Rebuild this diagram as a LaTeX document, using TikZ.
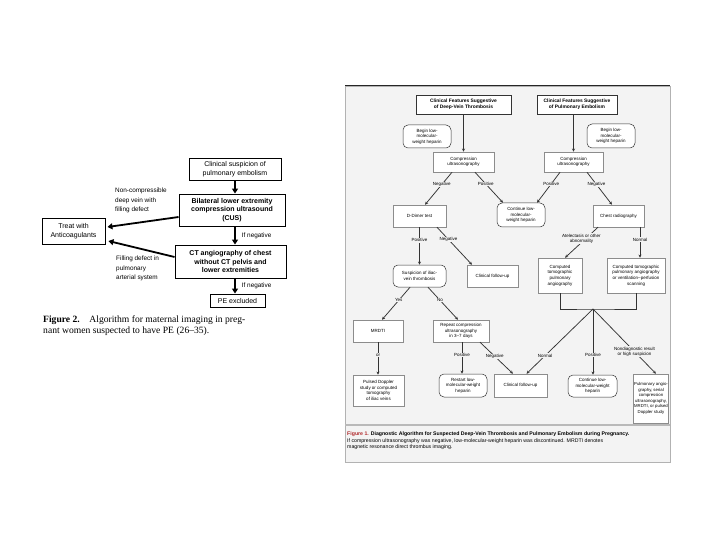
\documentclass[tikz,border=0pt]{standalone}
\usepackage{fontspec}
\setmainfont{Liberation Serif}
\setsansfont{Liberation Sans}
\usetikzlibrary{arrows.meta,calc}
\definecolor{rbg}{HTML}{F3F3F3}
\definecolor{capred}{HTML}{B0282A}
\definecolor{rline}{HTML}{333333}
\begin{document}
\begin{tikzpicture}[x=1pt,y=-1pt,
  lbox/.style={draw,line width=0.9pt,fill=white,font=\sffamily\fontsize{7}{8.6}\selectfont,align=center,inner sep=1pt},
  lbold/.style={lbox,font=\sffamily\bfseries\fontsize{7}{8.6}\selectfont},
  larr/.style={line width=1.8pt,-{Triangle[length=5pt,width=6pt]}},
  llab/.style={font=\sffamily\fontsize{6.4}{9.3}\selectfont,align=left,inner sep=0pt},
  rbox/.style={draw=gray!90,line width=0.5pt,fill=white,font=\sffamily\fontsize{4.5}{5.6}\selectfont,align=center,inner sep=0.5pt},
  rround/.style={rbox,draw=black!80,rounded corners=5pt},
  rtitle/.style={rbox,draw=black!80,line width=0.7pt,font=\sffamily\bfseries\fontsize{4.9}{6}\selectfont},
  rarr/.style={line width=0.75pt,draw=rline,-{Stealth[length=3.2pt,width=3pt]}},
  rln/.style={line width=0.75pt,draw=rline},
  rlab/.style={fill=rbg,font=\sffamily\fontsize{4.5}{5.6}\selectfont,inner sep=0.6pt,align=center},
  rcap/.style={anchor=west,inner sep=0pt,font=\sffamily\fontsize{5.2}{6}\selectfont}
]
\useasboundingbox (0,0) rectangle (720,540);
\fill[white] (0,0) rectangle (720,540);

% ---------------- Left figure ----------------
\node[lbox,minimum width=92pt,minimum height=22pt] (clin) at (235,169) {Clinical suspicion of\\pulmonary embolism};
\node[lbold,minimum width=106pt,minimum height=32pt] (cus) at (232,210) {Bilateral lower extremity\\compression ultrasound\\(CUS)};
\node[lbold,minimum width=111pt,minimum height=33pt] (cta) at (230.5,261.5) {CT angiography of chest\\without CT pelvis and\\lower extremities};
\node[lbox,minimum width=55pt,minimum height=13pt] (pex) at (237.5,300.5) {PE excluded};
\node[lbox,minimum width=63pt,minimum height=26pt] (treat) at (73.5,231) {Treat with\\Anticoagulants};

\draw[larr] (clin.south) -- (clin.south |- cus.north);
\draw[larr] (cus.south -| clin.south) -- (cta.north -| clin.south)
  node[midway,right=6pt,llab] {If negative};
\draw[larr] (cta.south -| clin.south) -- (pex.north -| clin.south)
  node[midway,right=6pt,llab] {If negative};
\draw[larr] ($(cus.west)+(0,7)$) -- ($(treat.east)+(2,-4)$);
\draw[larr] ($(cta.west)+(0,-4.5)$) -- ($(treat.east)+(3,10)$);

\node[llab,anchor=north west] (lab1) at (115,188) {Non-compressible\\deep vein with\\filling defect};
\node[llab,anchor=north west] (lab2) at (116,256) {Filling defect in\\pulmonary\\arterial system};

\node[anchor=west,inner sep=0pt,font=\fontsize{9.6}{11}\selectfont] (cap2a) at (43,320) {\textbf{Figure 2.}\quad Algorithm for maternal imaging in preg-};
\node[anchor=west,inner sep=0pt,font=\fontsize{9.6}{11}\selectfont] (cap2b) at (43,331) {nant women suspected to have PE (26--35).};

% ---------------- Right figure ----------------
\fill[rbg] (345,86) rectangle (670,462);
\draw[gray!60,line width=0.8pt] (345,86) rectangle (670,462);
\draw[gray!30!black,line width=1pt] (345,86) -- (670,86);
\draw[gray!55,line width=1.6pt] (345,425) -- (670,425);

\node[rtitle,minimum width=95pt,minimum height=19pt] (dvt) at (463.5,104.5) {Clinical Features Suggestive\\of Deep-Vein Thrombosis};
\node[rtitle,minimum width=80pt,minimum height=19pt] (pe) at (577,104.5) {Clinical Features Suggestive\\of Pulmonary Embolism};
\node[rround,minimum width=48pt,minimum height=23pt] (lmwh1) at (427,136.5) {Begin low-\\molecular-\\weight heparin};
\node[rround,minimum width=48pt,minimum height=24pt] (lmwh2) at (611,136) {Begin low-\\molecular-\\weight heparin};
\node[rbox,minimum width=61pt,minimum height=20pt] (cus1) at (463.5,162) {Compression\\ultrasonography};
\node[rbox,minimum width=59pt,minimum height=20pt] (cus2) at (573.5,162) {Compression\\ultrasonography};
\node[rbox,minimum width=53pt,minimum height=22pt] (ddim) at (419.5,216) {D-Dimer test};
\node[rround,minimum width=48pt,minimum height=24pt] (cont1) at (521,215) {Continue low-\\molecular-\\weight heparin};
\node[rbox,minimum width=51pt,minimum height=22pt] (chest) at (618.5,216) {Chest radiography};
\node[rround,minimum width=53pt,minimum height=22pt] (iliac) at (419.5,276) {Suspicion of iliac-\\vein thrombosis};
\node[rbox,minimum width=51pt,minimum height=22pt] (cfu1) at (492.5,276) {Clinical follow-up};
\node[rbox,minimum width=44pt,minimum height=35pt] (ctpa) at (560,275.5) {Computed\\tomographic\\pulmonary\\angiography};
\node[rbox,minimum width=58pt,minimum height=35pt] (ctvq) at (636,275.5) {Computed tomographic\\pulmonary angiography\\or ventilation--perfusion\\scanning};
\node[rbox,minimum width=50pt,minimum height=22pt] (mrdti) at (378,331) {MRDTI};
\node[rbox,minimum width=56pt,minimum height=22pt] (repeat) at (461,331) {Repeat compression\\ultrasonography\\in 3--7 days};
\node[rbox,minimum width=51pt,minimum height=31pt] (pulsed) at (378.5,390.5) {Pulsed Doppler\\study or computed\\tomography\\of iliac veins};
\node[rround,minimum width=48pt,minimum height=23pt] (restart) at (463,385.5) {Restart low-\\molecular-weight\\heparin};
\node[rbox,minimum width=53pt,minimum height=23pt] (cfu2) at (520.5,385.5) {Clinical follow-up};
\node[rround,minimum width=49pt,minimum height=22pt] (cont2) at (592.5,386) {Continue low-\\molecular-weight\\heparin};
\node[rbox,minimum width=35pt,minimum height=49pt,font=\sffamily\fontsize{4.3}{5.5}\selectfont] (pulm) at (651,398.5) {Pulmonary angio-\\graphy, serial\\compression\\ultrasonography,\\MRDTI, or pulsed\\Doppler study};

\coordinate (jn) at (593,309);
\draw[rarr] (dvt.south) -- (cus1.north);
\draw[rarr] (cus2.north |- pe.south) -- (cus2.north);
\draw[rarr] ($(cus1.south)+(-11.5,0)$) -- ($(ddim.north)+(5.5,0)$) node[rlab,pos=.38] {Negative};
\draw[rarr] ($(cus1.south)+(11.5,0)$) -- ($(cont1.north)+(-18,0)$) node[rlab,pos=.38] {Positive};
\draw[rarr] ($(cus2.south)+(-13.5,0)$) -- ($(cont1.north)+(16,0)$) node[rlab,pos=.38] {Positive};
\draw[rarr] ($(cus2.south)+(13.5,0)$) -- ($(chest.north)+(-6.5,0)$) node[rlab,pos=.38] {Negative};
\draw[rarr] (ddim.south) -- (iliac.north) node[rlab,pos=.35] {Positive};
\draw[rarr] ($(ddim.south)+(17.5,0)$) -- ($(cfu1.north)+(-20.5,0)$) node[rlab,pos=.33] {Negative};
\draw[rarr] ($(iliac.south)+(-9.5,0)$) -- ($(mrdti.north)+(4,0)$) node[rlab,pos=.4] {Yes};
\draw[rarr] ($(iliac.south)+(8.5,0)$) -- ($(repeat.north)+(-3,0)$) node[rlab,pos=.4] {No};
\draw[rarr] (mrdti.south) -- (mrdti.south |- pulsed.north) node[rlab,pos=.4] {or};
\draw[rarr] ($(repeat.south)+(1,0)$) -- ($(restart.north)+(-1,0)$) node[rlab,pos=.4] {Positive};
\draw[rarr] ($(repeat.south)+(19,0)$) -- ($(cfu2.north)+(-7.5,0)$) node[rlab,pos=.45] {Negative};
\draw[rarr] ($(chest.south)+(-20.5,0)$) -- ($(ctpa.north)+(5,0)$) node[rlab,pos=.38,xshift=-4pt] {Atelectasis or other\\abnormality};
\draw[rarr] ($(chest.south)+(21.5,0)$) -- ($(ctvq.north)+(4,0)$) node[rlab,pos=.4] {Normal};

\draw[rln] (ctpa.south) |- (jn) -| (ctvq.south);
\draw[rarr] (jn) -- ($(cfu2.north)+(6,0)$) node[rlab,pos=.72] {Normal};
\draw[rarr] (jn) -- (jn |- cont2.north) node[rlab,pos=.7] {Positive};
\draw[rarr] (jn) -- ($(pulm.north)+(5,0)$) node[rlab,pos=.66] {Nondiagnostic result\\or high suspicion};

\node[rcap] (cap1a) at (347,434) {\textbf{\textcolor{capred}{Figure 1.} Diagnostic Algorithm for Suspected Deep-Vein Thrombosis and Pulmonary Embolism during Pregnancy.}};
\node[rcap] (cap1b) at (347,441) {If compression ultrasonography was negative, low-molecular-weight heparin was discontinued. MRDTI denotes};
\node[rcap] (cap1c) at (347,447.5) {magnetic resonance direct thrombus imaging.};
\end{tikzpicture}
\end{document}
